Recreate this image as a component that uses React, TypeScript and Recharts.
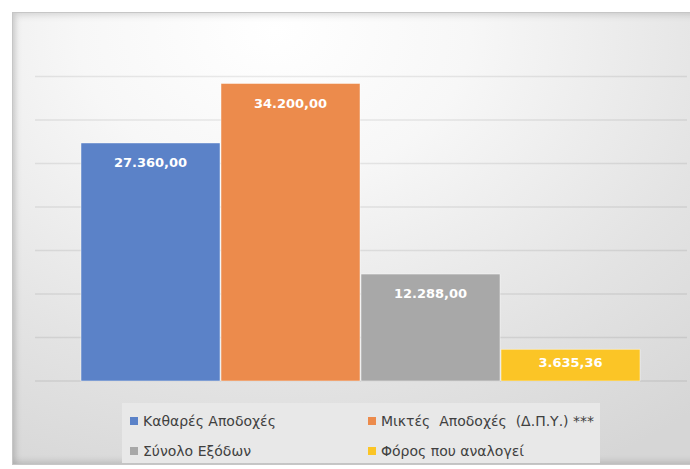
import React from 'react';
import { BarChart, Bar, XAxis, YAxis, CartesianGrid, Legend, LabelList } from 'recharts';

const seriesKeys = ['net', 'gross', 'expenses', 'tax'];
const seriesLabels = [
  'Καθαρές Αποδοχές',
  'Μικτές  Αποδοχές  (Δ.Π.Υ.) ***',
  'Σύνολο Εξόδων',
  'Φόρος που αναλογεί',
];
const seriesValues = [27360, 34200, 12288, 3635.36];
const seriesColors = ['#5b82c8', '#ec8b4c', '#a8a8a8', '#fbc526'];
const yTicks = [0, 5000, 10000, 15000, 20000, 25000, 30000, 35000];

const row: Record<string, number | string> = { name: '' };
seriesKeys.forEach((k, i) => {
  row[k] = seriesValues[i];
});
const data = [row];

const formatGreek = (v: any) => {
  const n = Number(v);
  const [intPart, dec] = n.toFixed(2).split('.');
  const grouped = intPart.replace(/\B(?=(\d{3})+(?!\d))/g, '.');
  return `${grouped},${dec}`;
};

const BarValueLabel = (props: any) => {
  const { x, y, width, height, value } = props;
  const pad = height < 60 ? 8 : 15;
  return (
    <text
      x={Number(x) + Number(width) / 2}
      y={Number(y) + pad + 9.3}
      textAnchor="middle"
      fill="#ffffff"
      style={{ fontFamily: '"DejaVu Sans", sans-serif', fontWeight: 'bold', fontSize: 13 }}
    >
      {formatGreek(value)}
    </text>
  );
};

const LegendContent = (props: any) => {
  const payload = props.payload || [];
  return (
    <div
      style={{
        width: '100%',
        height: '100%',
        background: '#e8e8e8',
        display: 'grid',
        gridTemplateColumns: '238px 240px',
        gridTemplateRows: '32px 28px',
        paddingTop: 2,
        boxSizing: 'border-box',
        fontFamily: '"DejaVu Sans", sans-serif',
        fontSize: 14,
        color: '#404040',
      }}
    >
      {payload.map((p: any, i: number) => (
        <div key={i} style={{ display: 'flex', alignItems: 'center', paddingLeft: 8, whiteSpace: 'pre' }}>
          <span style={{ width: 8, height: 8, background: p.color, display: 'inline-block', marginRight: 5 }} />
          <span>{p.value}</span>
        </div>
      ))}
    </div>
  );
};

export default function App() {
  return (
    <div style={{ position: 'fixed', left: 0, top: 0, width: 690, height: 469, background: '#ffffff', overflow: 'hidden' }}>
      <div
        style={{
          position: 'absolute',
          left: 12,
          top: 12,
          width: 690,
          height: 453,
          border: '1.5px solid #c6c6c6',
          boxSizing: 'border-box',
          background: 'radial-gradient(ellipse 95% 110% at 38% 4%, #ffffff 0%, #f7f7f7 30%, #e3e3e3 70%, #d6d6d6 100%)',
          boxShadow: 'inset 3px 3px 6px rgba(0,0,0,0.10), inset 0 -3px 6px rgba(0,0,0,0.12)',
        }}
      />
      <div style={{ position: 'absolute', left: 0, top: 0 }}>
        <BarChart
          width={690}
          height={469}
          data={data}
          margin={{ top: 76.5, left: 35, right: 3, bottom: 88 }}
          barCategoryGap={46}
          barGap={1}
        >
          <CartesianGrid horizontal={true} vertical={false} stroke="#000000" strokeOpacity={0.08} strokeWidth={1.6} />
          <XAxis dataKey="name" hide />
          <YAxis hide domain={[0, 35000]} ticks={yTicks} />
          <Legend
            layout="horizontal"
            verticalAlign="middle"
            align="center"
            content={<LegendContent />}
            wrapperStyle={{ position: 'absolute', left: 122, top: 403, width: 478, height: 60 }}
          />
          {seriesKeys.map((k, i) => (
            <Bar
              key={k}
              dataKey={k}
              name={seriesLabels[i]}
              fill={seriesColors[i]}
              stroke="rgba(255,255,255,0.45)"
              strokeWidth={1}
              isAnimationActive={false}
            >
              <LabelList dataKey={k} content={<BarValueLabel />} />
            </Bar>
          ))}
        </BarChart>
      </div>
    </div>
  );
}
